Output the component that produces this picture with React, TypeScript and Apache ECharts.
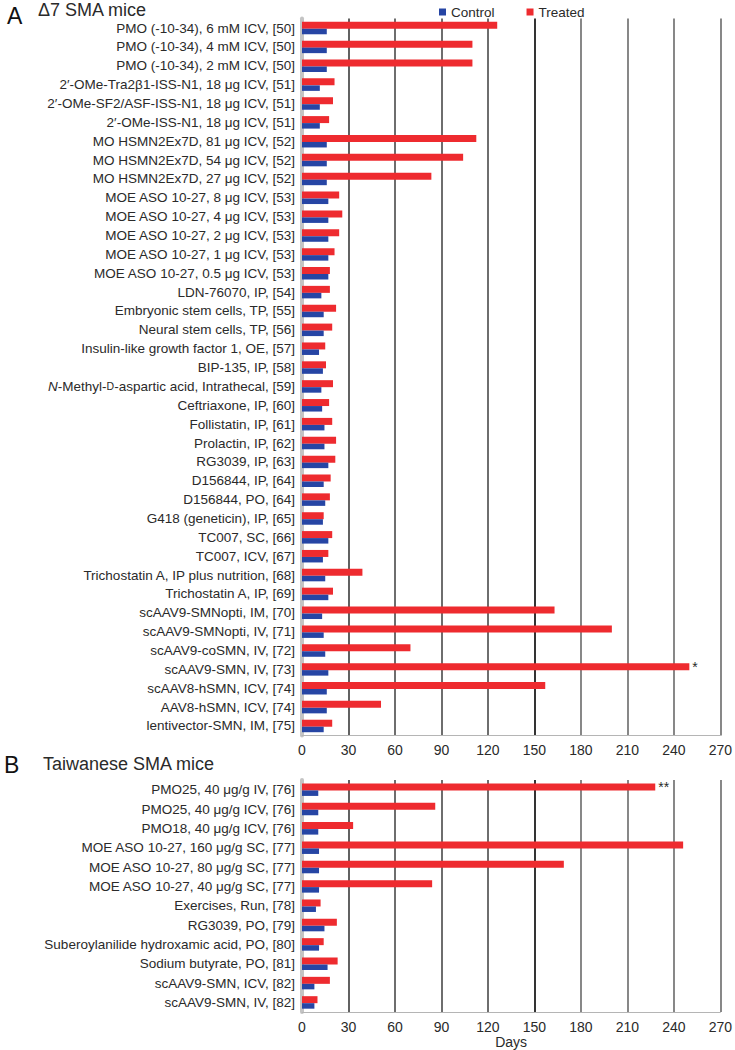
import React, { useEffect, useRef } from "react";
import * as echarts from "echarts";

const FONT = "'Liberation Sans', Arial, Helvetica, sans-serif";

const categoriesA: string[] = [
  "PMO (-10-34), 6 mM ICV, [50]",
  "PMO (-10-34), 4 mM ICV, [50]",
  "PMO (-10-34), 2 mM ICV, [50]",
  "2′-OMe-Tra2β1-ISS-N1, 18 μg ICV, [51]",
  "2′-OMe-SF2/ASF-ISS-N1, 18 μg ICV, [51]",
  "2′-OMe-ISS-N1, 18 μg ICV, [51]",
  "MO HSMN2Ex7D, 81 μg ICV, [52]",
  "MO HSMN2Ex7D, 54 μg ICV, [52]",
  "MO HSMN2Ex7D, 27 μg ICV, [52]",
  "MOE ASO 10-27, 8 μg ICV, [53]",
  "MOE ASO 10-27, 4 μg ICV, [53]",
  "MOE ASO 10-27, 2 μg ICV, [53]",
  "MOE ASO 10-27, 1 μg ICV, [53]",
  "MOE ASO 10-27, 0.5 μg ICV, [53]",
  "LDN-76070, IP, [54]",
  "Embryonic stem cells, TP, [55]",
  "Neural stem cells, TP, [56]",
  "Insulin-like growth factor 1, OE, [57]",
  "BIP-135, IP, [58]",
  "N-Methyl-D-aspartic acid, Intrathecal, [59]",
  "Ceftriaxone, IP, [60]",
  "Follistatin, IP, [61]",
  "Prolactin, IP, [62]",
  "RG3039, IP, [63]",
  "D156844, IP, [64]",
  "D156844, PO, [64]",
  "G418 (geneticin), IP, [65]",
  "TC007, SC, [66]",
  "TC007, ICV, [67]",
  "Trichostatin A, IP plus nutrition, [68]",
  "Trichostatin A, IP, [69]",
  "scAAV9-SMNopti, IM, [70]",
  "scAAV9-SMNopti, IV, [71]",
  "scAAV9-coSMN, IV, [72]",
  "scAAV9-SMN, IV, [73]",
  "scAAV8-hSMN, ICV, [74]",
  "AAV8-hSMN, ICV, [74]",
  "lentivector-SMN, IM, [75]",
];

const treatedA: number[] = [
  126, 110, 110, 21, 20, 17.5, 112.5, 104, 83.5, 24, 26, 24, 21, 18, 18,
  22, 19.5, 15, 15.5, 20, 17.5, 19.5, 22, 21.5, 18.5, 18, 14, 19.5, 17,
  39, 20, 163, 200, 70, 250, 157, 51, 19.5,
];

const controlA: number[] = [
  16, 16, 16, 11.5, 11.5, 11.5, 16, 16, 16, 17, 17, 17, 17, 17, 12.5,
  14, 14, 11, 13.5, 12.5, 13, 14.5, 14.5, 17, 14, 15, 13.5, 17, 13.5,
  15, 17, 13, 14, 15, 17, 16, 16, 14,
];

const categoriesB: string[] = [
  "PMO25, 40 μg/g IV, [76]",
  "PMO25, 40 μg/g ICV, [76]",
  "PMO18, 40 μg/g ICV, [76]",
  "MOE ASO 10-27, 160 μg/g SC, [77]",
  "MOE ASO 10-27, 80 μg/g SC, [77]",
  "MOE ASO 10-27, 40 μg/g SC, [77]",
  "Exercises, Run, [78]",
  "RG3039, PO, [79]",
  "Suberoylanilide hydroxamic acid, PO, [80]",
  "Sodium butyrate, PO, [81]",
  "scAAV9-SMN, ICV, [82]",
  "scAAV9-SMN, IV, [82]",
];

const treatedB: number[] = [228, 86, 33, 246, 169, 84, 12, 22.5, 14, 23, 18, 10];
const controlB: number[] = [10.5, 10.5, 10.5, 11, 11, 11, 9, 14.5, 11, 16.5, 8, 8];

const xTicks: number[] = [0, 30, 60, 90, 120, 150, 180, 210, 240, 270];

const notes: [string, string][] = [
  ["scAAV9-SMN, IV, [73]", "*"],
  ["PMO25, 40 μg/g IV, [76]", "**"],
];

const RED = "#EE2B2F";
const BLUE = "#2645A4";
const TXT = "#2a2a2a";

function withNotes(cats: string[], vals: number[]) {
  return vals.map((v, i) => {
    const n = notes.find((p) => p[0] === cats[i]);
    if (!n) return v;
    return {
      value: v,
      label: {
        show: true,
        position: "right",
        distance: 3,
        formatter: n[1],
        fontSize: 14,
        fontFamily: FONT,
        color: TXT,
      },
    };
  });
}

function xAxisFor(gridIndex: number, name?: string) {
  return {
    type: "value",
    gridIndex,
    min: xTicks[0],
    max: xTicks[xTicks.length - 1],
    interval: xTicks[1] - xTicks[0],
    name: name || "",
    nameLocation: "middle",
    nameGap: 21,
    nameTextStyle: { fontSize: 14, fontFamily: FONT, color: TXT },
    axisLine: { show: true, lineStyle: { color: "#b5b5b5", width: 1 } },
    axisTick: { show: false },
    axisLabel: { fontSize: 14, fontFamily: FONT, color: TXT, margin: 8 },
    splitLine: {
      show: true,
      lineStyle: {
        width: 1.6,
        color: ["#999", "#3a3a3a", "#4a4a4a", "#4a4a4a", "#4a4a4a", "#000", "#6a6a6a", "#6a6a6a", "#6a6a6a", "#6a6a6a"],
      },
    },
  };
}

function yAxisFor(gridIndex: number, data: string[]) {
  return {
    type: "category",
    gridIndex,
    data,
    inverse: true,
    axisLine: { show: true, lineStyle: { color: "#c4c4c4", width: 4 } },
    axisTick: { show: false },
    axisLabel: {
      fontSize: 13.5,
      fontFamily: FONT,
      color: TXT,
      margin: 7,
      interval: 0,
      formatter: (v: string) =>
        v.startsWith("N-Methyl-D-")
          ? "{i|N}-Methyl-{sc|D}-" + v.slice("N-Methyl-D-".length)
          : v,
      rich: {
        i: { fontStyle: "italic", fontSize: 13.5, fontFamily: FONT, color: TXT },
        sc: { fontSize: 10.5, fontFamily: FONT, color: TXT },
      },
    },
    splitLine: { show: false },
  };
}

function barSeries(name: string, color: string, xi: number, data: any[], width: number) {
  return {
    name,
    type: "bar",
    xAxisIndex: xi,
    yAxisIndex: xi,
    data,
    barWidth: width,
    barGap: "0%",
    itemStyle: { color },
  };
}

export default function App() {
  const ref = useRef<HTMLDivElement>(null);

  useEffect(() => {
    if (!ref.current) return;
    const chart = echarts.init(ref.current, null, { renderer: "svg" });
    chart.setOption({
      animation: false,
      backgroundColor: "#ffffff",
      textStyle: { fontFamily: FONT },
      legend: {
        data: [
          { name: "Control", itemStyle: { color: BLUE } },
          { name: "Treated", itemStyle: { color: RED } },
        ],
        left: 434,
        top: 0,
        icon: "rect",
        itemWidth: 7,
        itemHeight: 7,
        itemGap: 32,
        textStyle: { fontSize: 13.5, fontFamily: FONT, color: TXT },
      },
      grid: [
        { left: 302, right: 9, top: 18.6, height: 716.8 },
        { left: 302, right: 9, top: 780, height: 233 },
      ],
      xAxis: [xAxisFor(0), xAxisFor(1, "Days")],
      yAxis: [yAxisFor(0, categoriesA), yAxisFor(1, categoriesB)],
      series: [
        barSeries("Treated", RED, 0, withNotes(categoriesA, treatedA), 7),
        barSeries("Control", BLUE, 0, controlA, 5.5),
        barSeries("Treated", RED, 1, withNotes(categoriesB, treatedB), 7),
        barSeries("Control", BLUE, 1, controlB, 5.5),
      ],
      graphic: [
        { type: "text", left: 7, top: 4, style: { text: "A", fontSize: 23, fontFamily: FONT, fill: "#111" } },
        { type: "text", left: 38, top: 1, style: { text: "Δ7 SMA mice", fontSize: 18, fontFamily: FONT, fill: TXT } },
        { type: "text", left: 4, top: 753, style: { text: "B", fontSize: 23, fontFamily: FONT, fill: "#111" } },
        { type: "text", left: 43, top: 755, style: { text: "Taiwanese SMA mice", fontSize: 18, fontFamily: FONT, fill: TXT } },
      ],
    });
    return () => chart.dispose();
  }, []);

  return (
    <div
      ref={ref}
      style={{ position: "absolute", left: 0, top: 0, width: 735, height: 1050 }}
    />
  );
}
